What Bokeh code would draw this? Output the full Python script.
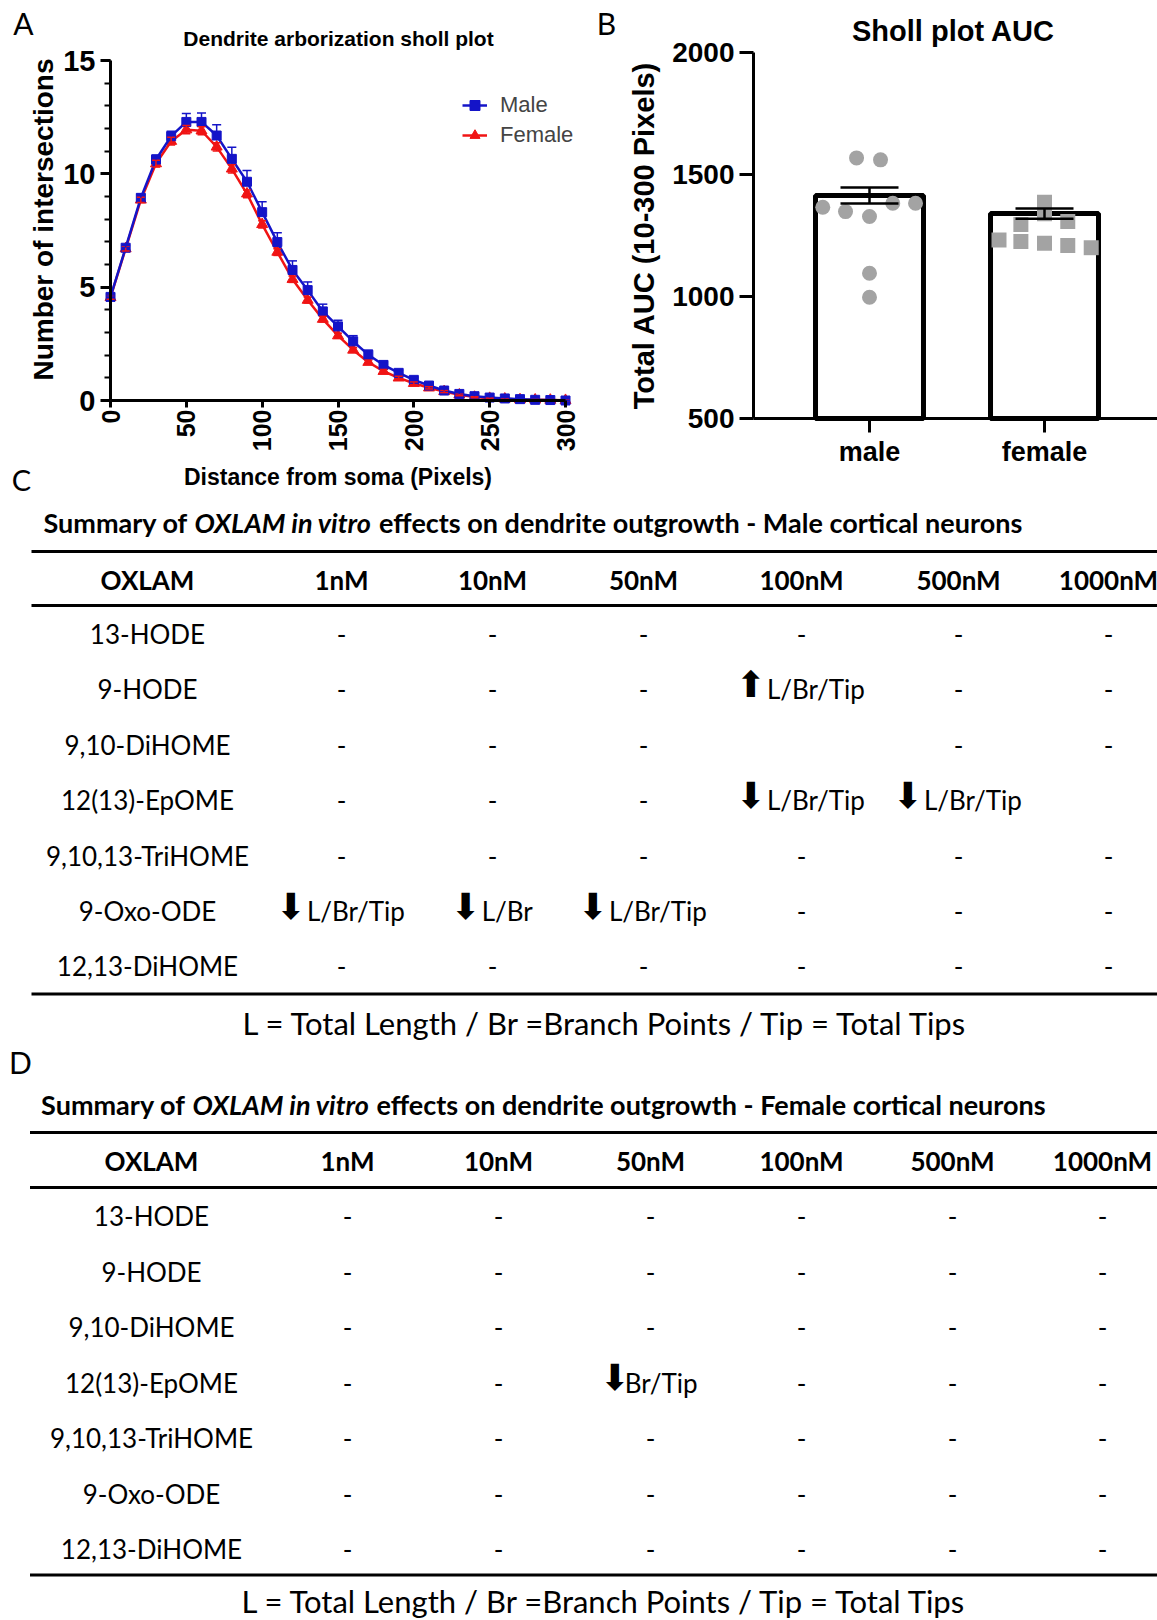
import math
from bokeh.plotting import figure
from bokeh.models import (ColumnDataSource, Range1d, Legend, LegendItem, Label,
                          Whisker, TeeHead, FixedTicker, LinearAxis)
from bokeh.layouts import column, row
from bokeh.embed import file_html
from bokeh.resources import INLINE
from bokeh.core.properties import value

# ---------------- data: panel A (Sholl plot) ----------------
distance = list(range(0, 301, 10))
male_mean = [4.57, 6.74, 8.94, 10.63, 11.66, 12.29, 12.29, 11.69, 10.66, 9.65, 8.31,
             6.99, 5.76, 4.87, 3.93, 3.27, 2.61, 2.02, 1.57, 1.22, 0.91, 0.66, 0.44,
             0.29, 0.19, 0.13, 0.09, 0.06, 0.03, 0.02, 0.0]
male_sem = [0.08, 0.10, 0.15, 0.20, 0.22, 0.37, 0.39, 0.48, 0.51, 0.50, 0.46, 0.41,
            0.40, 0.36, 0.32, 0.27, 0.25, 0.20, 0.15, 0.12, 0.10, 0.09, 0.07, 0.06,
            0.05, 0.04, 0.04, 0.03, 0.02, 0.02, 0.01]
female_mean = [4.55, 6.70, 8.85, 10.45, 11.44, 11.95, 11.90, 11.19, 10.22, 9.12, 7.77,
               6.55, 5.35, 4.43, 3.59, 2.86, 2.23, 1.69, 1.29, 1.00, 0.76, 0.56, 0.40,
               0.25, 0.15, 0.10, 0.07, 0.04, 0.03, 0.02, 0.01]
female_sem = [0.08, 0.10, 0.12, 0.15, 0.17, 0.18, 0.18, 0.18, 0.18, 0.17, 0.16, 0.15,
              0.14, 0.13, 0.12, 0.11, 0.10, 0.09, 0.08, 0.07, 0.06, 0.05, 0.05, 0.04,
              0.03, 0.03, 0.02, 0.02, 0.02, 0.02, 0.01]

# ---------------- data: panel B (AUC) ----------------
groups = ["male", "female"]
auc_mean = [1414, 1340]
auc_sem = [33, 21]
male_auc = [1568, 1560, 1366, 1348, 1328, 1382, 1382, 1095, 997]
male_jitter = [-0.074, 0.063, -0.267, -0.137, 0.0, 0.133, 0.263, 0.0, 0.0]
female_auc = [1386, 1339, 1295, 1307, 1232, 1225, 1218, 1209, 1200]
female_jitter = [0.0, 0.0, -0.135, 0.133, -0.26, -0.135, 0.0, 0.133, 0.267]

# ---------------- data: tables C and D ----------------
concentrations = ["1nM", "10nM", "50nM", "100nM", "500nM", "1000nM"]
compounds = ["13-HODE", "9-HODE", "9,10-DiHOME", "12(13)-EpOME", "9,10,13-TriHOME",
             "9-Oxo-ODE", "12,13-DiHOME"]
male_effects = [
    ["-", "-", "-", "-", "-", "-"],
    ["-", "-", "-", "↑ L/Br/Tip", "-", "-"],
    ["-", "-", "-", "", "-", "-"],
    ["-", "-", "-", "↓ L/Br/Tip", "↓ L/Br/Tip", ""],
    ["-", "-", "-", "-", "-", "-"],
    ["↓ L/Br/Tip", "↓ L/Br", "↓ L/Br/Tip", "-", "-", "-"],
    ["-", "-", "-", "-", "-", "-"],
]
female_effects = [
    ["-", "-", "-", "-", "-", "-"],
    ["-", "-", "-", "-", "-", "-"],
    ["-", "-", "-", "-", "-", "-"],
    ["-", "-", "↓Br/Tip", "-", "-", "-"],
    ["-", "-", "-", "-", "-", "-"],
    ["-", "-", "-", "-", "-", "-"],
    ["-", "-", "-", "-", "-", "-"],
]
title_parts_male = ["Summary of ", "OXLAM in vitro", " effects on dendrite outgrowth - Male cortical neurons"]
title_parts_female = ["Summary of ", "OXLAM in vitro", " effects on dendrite outgrowth - Female cortical neurons"]
footnote = "L = Total Length / Br =Branch Points / Tip = Total Tips"

BLUE = "#1414c8"
RED = "#f01414"
GRAY = "#a3a3a3"
ARIAL = "Liberation Sans"
CAL = "Lato"
TOP_H = 498          # height of the top row (panels A and B)


def style_axis(ax):
    ax.axis_line_width = 3
    ax.axis_line_color = "black"
    ax.major_tick_line_width = 3
    ax.major_tick_line_color = "black"
    ax.minor_tick_line_width = 2
    ax.major_tick_in = 0
    ax.minor_tick_in = 0
    ax.major_label_text_font = ARIAL
    ax.major_label_text_font_style = "bold"
    ax.major_label_text_color = "black"
    ax.axis_label_text_font = ARIAL
    ax.axis_label_text_font_style = "bold"
    ax.axis_label_text_color = "black"


def bare_figure(width, height, xr, yr):
    p = figure(width=width, height=height, x_range=Range1d(*xr), y_range=Range1d(*yr),
               output_backend="svg", toolbar_location=None, x_axis_type=None, y_axis_type=None,
               min_border=0)
    p.title.visible = False
    p.grid.visible = False
    p.outline_line_color = None
    return p


def label(p, x, y, text, font, size, style="normal", angle=0):
    p.add_layout(Label(x=x, y=y, x_units="screen", y_units="screen", text=text, angle=angle,
                       text_align="center", text_baseline="middle", text_font=font,
                       text_font_style=style, text_font_size=size, text_color="black"))


# ================= Panel A =================
# frame covers the whole canvas; data 0..300 sits between x=110 and x=565 px, 0..15 between y=400 and y=60 px
WA = 590
ax_px = (110.0, 565.0)
ay_px = (400.0, 60.0)
sx = (ax_px[1] - ax_px[0]) / 300.0
sy = (ay_px[0] - ay_px[1]) / 15.0
xrA = (-ax_px[0] / sx, (WA - ax_px[0]) / sx)
yrA = ((ay_px[0] - TOP_H) / sy, ay_px[0] / sy)
pA = bare_figure(WA, TOP_H, xrA, yrA)

xaxA = LinearAxis(fixed_location=0, bounds=(0, 300), ticker=FixedTicker(ticks=list(range(0, 301, 50))))
yaxA = LinearAxis(fixed_location=0, bounds=(0, 15),
                  ticker=FixedTicker(ticks=[0, 5, 10, 15], minor_ticks=list(range(0, 16))))
for ax in (xaxA, yaxA):
    style_axis(ax)
xaxA.major_label_orientation = math.pi / 2
xaxA.major_label_text_font_size = "25px"
yaxA.major_label_text_font_size = "29px"
xaxA.major_tick_out = 7
yaxA.major_tick_out = 10
yaxA.minor_tick_out = 6
xaxA.minor_tick_out = 0
xaxA.major_label_standoff = 2
yaxA.major_label_standoff = 5
xaxA.axis_label = "Distance from soma (Pixels)"
xaxA.axis_label_text_font_size = "23px"
xaxA.axis_label_standoff = 10
pA.add_layout(xaxA, "below")
pA.add_layout(yaxA, "left")
# y-axis title (placed as in the reference, slightly above the frame centre)
label(pA, 43, TOP_H - 219, "Number of intersections", ARIAL, "28px", "bold", angle=math.pi / 2)

srcA = ColumnDataSource(dict(
    x=distance, m=male_mean, f=female_mean,
    m_up=[a + b for a, b in zip(male_mean, male_sem)],
    f_lo=[a - b for a, b in zip(female_mean, female_sem)],
    f_up=[a + b for a, b in zip(female_mean, female_sem)],
))
fl = pA.line("x", "f", source=srcA, line_color=RED, line_width=2.5)
fs = pA.scatter("x", "f", source=srcA, marker="triangle", size=11, fill_color=RED, line_color=RED)
pA.add_layout(Whisker(base="x", upper="f_up", lower="f_lo", source=srcA, line_color=RED, line_width=1.5,
                      upper_head=TeeHead(size=8, line_color=RED, line_width=1.5),
                      lower_head=TeeHead(size=8, line_color=RED, line_width=1.5), level="glyph"))
ml = pA.line("x", "m", source=srcA, line_color=BLUE, line_width=2.5)
ms = pA.scatter("x", "m", source=srcA, marker="square", size=9, fill_color=BLUE, line_color=BLUE)
pA.add_layout(Whisker(base="x", upper="m_up", lower="m", source=srcA, line_color=BLUE, line_width=1.5,
                      upper_head=TeeHead(size=9, line_color=BLUE, line_width=1.5),
                      lower_head=None, level="glyph"))

legend = Legend(items=[LegendItem(label="Male", renderers=[ml, ms]),
                       LegendItem(label="Female", renderers=[fl, fs])],
                location=(462, TOP_H - 150), padding=0, margin=0, spacing=0,
                glyph_width=25, glyph_height=30, label_height=30, label_standoff=13,
                label_text_font=ARIAL, label_text_font_size="22px",
                background_fill_alpha=0, border_line_alpha=0)
pA.add_layout(legend)

label(pA, 23, TOP_H - 22, "A", CAL, "30px")
label(pA, 338, TOP_H - 38, "Dendrite arborization sholl plot", ARIAL, "21px", "bold")
label(pA, 21, TOP_H - 479, "C", CAL, "29px")

# ================= Panel B =================
# male at x=869 px, female at x=1044 px (page); 500..2000 between y=418 and y=52 px
WB = 1157 - WA
bx0_page = 869.0
bsx = 175.0
by_px = (418.0, 52.0)
bsy = (by_px[0] - by_px[1]) / 1500.0
xrB = ((WA - bx0_page) / bsx, (1157 - bx0_page) / bsx)
yrB = (500 - (TOP_H - by_px[0]) / bsy, 500 + by_px[0] / bsy)
pB = bare_figure(WB, TOP_H, xrB, yrB)

xaxB = LinearAxis(fixed_location=500, bounds=(-0.663, xrB[1]), ticker=FixedTicker(ticks=[0, 1]))
yaxB = LinearAxis(fixed_location=-0.663, bounds=(500, 2000), ticker=FixedTicker(ticks=[500, 1000, 1500, 2000]))
for ax in (xaxB, yaxB):
    style_axis(ax)
xaxB.major_label_overrides = {0: groups[0], 1: groups[1]}
xaxB.major_label_text_font_size = "27px"
yaxB.major_label_text_font_size = "28px"
xaxB.major_tick_out = 14
yaxB.major_tick_out = 14
xaxB.minor_tick_out = 0
yaxB.minor_tick_out = 0
xaxB.major_label_standoff = 4
yaxB.major_label_standoff = 5
yaxB.axis_label = "Total AUC (10-300 Pixels)"
yaxB.axis_label_text_font_size = "29px"
yaxB.axis_label_standoff = 9
pB.add_layout(xaxB, "below")
pB.add_layout(yaxB, "left")

pB.vbar(x=[0, 1], top=auc_mean, bottom=500, width=0.617, fill_color="white",
        line_color="black", line_width=5)
pB.scatter(x=[0 + j for j in male_jitter], y=male_auc, marker="circle", size=15,
           fill_color=GRAY, line_color=None)
pB.scatter(x=[1 + j for j in female_jitter], y=female_auc, marker="square", size=15,
           fill_color=GRAY, line_color=None)
srcB = ColumnDataSource(dict(x=[0, 1], up=[m + s for m, s in zip(auc_mean, auc_sem)],
                             lo=[m - s for m, s in zip(auc_mean, auc_sem)]))
pB.add_layout(Whisker(base="x", upper="up", lower="lo", source=srcB, line_color="black", line_width=2.5,
                      upper_head=TeeHead(size=58, line_color="black", line_width=2.5),
                      lower_head=TeeHead(size=58, line_color="black", line_width=2.5), level="glyph"))
label(pB, 606 - WA, TOP_H - 22, "B", CAL, "30px")
label(pB, 957 - WA, TOP_H - 30, "Sholl plot  AUC", ARIAL, "29px", "bold")

# ================= Tables C and D =================
pT = bare_figure(1157, 1620 - TOP_H, (0, 1157), (1620, TOP_H))

BODY = "26px"
ARROW_GLYPH = {"↓": "⬇", "↑": "⬆"}


def draw_table(p, letter, letter_xy, title_parts, title_x, title_y, rules_x0, rule_ys,
               header_y, row0_y, row_dy, cols, effects, foot_xy):
    if letter:
        p.text(x=[letter_xy[0]], y=[letter_xy[1]], text=[letter], text_font=value(CAL),
               text_font_size="30px", text_align="center", text_baseline="middle", text_color="black")
    styles = ["bold", "bold italic", "bold"]
    for part, tx, st in zip(title_parts, title_x, styles):
        p.text(x=[tx], y=[title_y], text=[part], text_font=value(CAL), text_font_size="27px",
               text_font_style=st, text_align="left", text_baseline="middle", text_color="black")
    p.segment(x0=[rules_x0] * 3, x1=[1157] * 3, y0=rule_ys, y1=rule_ys, line_color="black", line_width=3)
    headers = ["OXLAM"] + concentrations
    p.text(x=cols, y=[header_y] * len(cols), text=headers, text_font=value(CAL), text_font_size=BODY,
           text_font_style="bold", text_align="center", text_baseline="middle", text_color="black")
    ys = [row0_y + i * row_dy for i in range(len(compounds))]
    p.text(x=[cols[0]] * len(compounds), y=ys, text=compounds, text_font=value(CAL), text_font_size=BODY,
           text_align="center", text_baseline="middle", text_color="black")
    dash_x, dash_y = [], []
    arr_x, arr_y, arr_t = [], [], []
    lab_x, lab_y, lab_t = [], [], []
    for i, rowvals in enumerate(effects):
        for j, cell in enumerate(rowvals):
            cx = cols[j + 1]
            cy = ys[i]
            if cell == "-":
                dash_x.append(cx)
                dash_y.append(cy)
            elif cell:
                arrow = cell[0]
                rest = cell[1:]
                gap = 6 if rest.startswith(" ") else 0
                rest = rest.strip()
                aw = 20
                total = aw + gap + 11.9 * len(rest)
                start = cx - total / 2
                arr_x.append(start + aw / 2)
                arr_y.append(cy - 5)
                arr_t.append(ARROW_GLYPH.get(arrow, arrow))
                lab_x.append(start + aw + gap)
                lab_y.append(cy)
                lab_t.append(rest)
    p.text(x=dash_x, y=dash_y, text=["-"] * len(dash_x), text_font=value(CAL), text_font_size=BODY,
           text_align="center", text_baseline="middle", text_color="black")
    p.text(x=arr_x, y=arr_y, text=arr_t, text_font=value("DejaVu Sans"), text_font_size="36px",
           text_align="center", text_baseline="middle", text_color="black")
    p.text(x=lab_x, y=lab_y, text=lab_t, text_font=value(CAL), text_font_size=BODY,
           text_align="left", text_baseline="middle", text_color="black")
    p.text(x=[foot_xy[0]], y=[foot_xy[1]], text=[footnote], text_font=value(CAL), text_font_size="31px",
           text_align="center", text_baseline="middle", text_color="black")


cols_C = [147, 341, 492, 643, 801, 958, 1108]
cols_D = [151, 347, 498, 650, 801, 952, 1102]
draw_table(pT, None, None, title_parts_male, [43, 194, 378.6], 521.5, 31,
           [551, 605, 993.5], 579, 633.5, 55.4, cols_C, male_effects, (606, 1022))
draw_table(pT, "D", (20, 1061), title_parts_female, [40.6, 192, 376], 1104, 29.5,
           [1132, 1187, 1574.5], 1160.5, 1215.5, 55.5, cols_D, female_effects, (605, 1600))

layout = column(row(pA, pB), pT)
open("out.html", "w").write(file_html(layout, INLINE))
